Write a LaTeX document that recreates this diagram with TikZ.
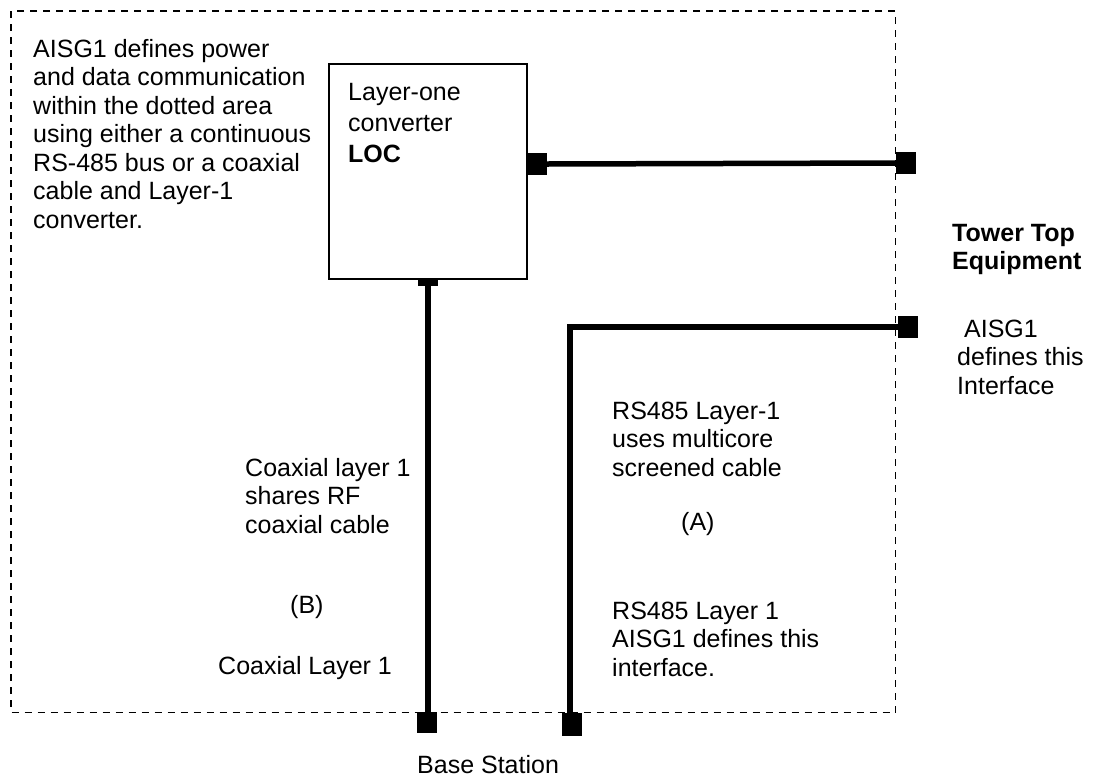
\documentclass[tikz,border=0pt]{standalone}
\usepackage{fontspec}
\setmainfont{Liberation Sans}
\begin{document}
\begin{tikzpicture}[x=1pt,y=-1pt,
  txt/.style={align=left,inner sep=0pt,anchor=base west,font=\fontsize{25}{28.5}\selectfont},
  boxtxt/.style={txt,font=\fontsize{25}{31}\selectfont},
  sq/.style={fill=black,draw=none,minimum width=20pt,minimum height=22pt,inner sep=0pt},
  wire/.style={line width=5.5pt},
  area/.style={line width=1.5pt,dash pattern=on 7pt off 6pt},
  box/.style={draw,line width=1.5pt,inner sep=0pt}]
\path[use as bounding box] (0,0) rectangle (1102,782);
% dotted area
\draw[area] (11,11) rectangle (895.5,712.5);
% LOC box
\node[box,anchor=north west,minimum width=198pt,minimum height=215pt] (loc) at (328,63) {};
% (multi-line texts are placed by the baseline of their last line)
\node[boxtxt] (loct) at (348,162) {Layer-one\\converter\\\textbf{LOC}};
% squares
\node[sq] (s1) at (537,164) {};
\node[sq] (s2) at (906,163) {};
\node[sq] (s3) at (908,327) {};
\node[sq,minimum height=7pt,anchor=north] (st) at (428,278.5) {};
\node[sq,minimum height=21pt] (s4) at (427,722.5) {};
\node[sq,minimum height=23pt] (s5) at (572,724.5) {};
\coordinate (bend) at (570,327);
% wires
\draw[wire] (s1.east) -- (s2.west);
\draw[wire] (st.south) -- (st.south |- s4.north);
\draw[wire] (s3.west) -- (bend) -- (bend |- s5.north);
% texts
\node[txt] (t1) at (33,228) {AISG1 defines power\\and data communication\\within the dotted area\\using either a continuous\\RS-485 bus or a coaxial\\cable and Layer-1\\converter.};
\node[txt] (t2) at (952,269.5) {\textbf{Tower Top}\\\textbf{Equipment}};
\node[txt] (t3) at (957,394) {\ AISG1\\defines this\\Interface};
\node[txt] (t4) at (612,476) {RS485 Layer-1\\uses multicore\\screened cable};
\node[txt] (t5) at (681,530) {(A)};
\node[txt] (t6) at (612,676) {RS485 Layer 1\\AISG1 defines this\\interface.};
\node[txt] (t7) at (245,533) {Coaxial layer 1\\shares RF\\coaxial cable};
\node[txt] (t8) at (290,613) {(B)};
\node[txt] (t9) at (218,674) {Coaxial Layer 1};
\node[txt] (t10) at (417,773) {Base Station};
\end{tikzpicture}
\end{document}
